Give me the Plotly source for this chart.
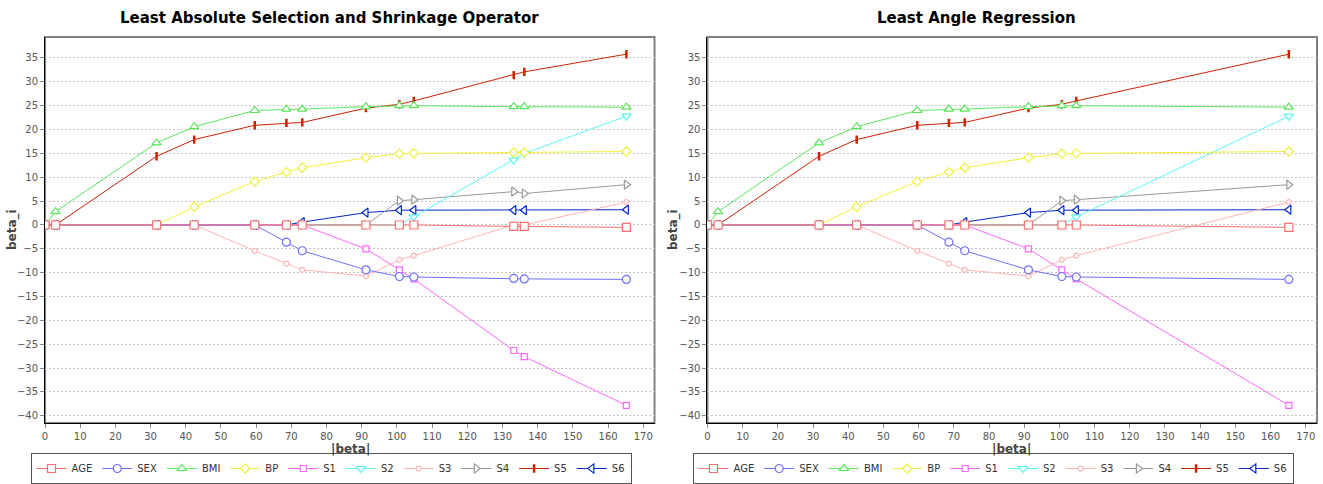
import plotly.graph_objects as go
from plotly.subplots import make_subplots

# Regularization paths on the diabetes data: coefficient of each predictor vs. L1 norm |beta|
variables = ["AGE", "SEX", "BMI", "BP", "S1", "S2", "S3", "S4", "S5", "S6"]

# ---- LASSO path (13 breakpoints) ----
lasso_norm = [0, 3.0, 31.7, 42.4, 59.6, 68.6, 73.1, 91.2, 100.7, 104.8, 133.2, 136.2, 165.2]
lasso_age = [0, 0, 0, 0, 0, 0, 0, 0, 0, 0, -0.3, -0.3, -0.5]
lasso_sex = [0, 0, 0, 0, 0, -3.6, -5.4, -9.4, -10.8, -10.9, -11.2, -11.3, -11.4]
lasso_bmi = [0, 2.8, 17.2, 20.6, 24.0, 24.3, 24.3, 24.8, 25.0, 25.0, 24.8, 24.8, 24.7]
lasso_bp = [0, 0, 0, 3.8, 9.1, 11.1, 12.0, 14.1, 14.95, 15.0, 15.2, 15.2, 15.4]
lasso_s1 = [0, 0, 0, 0, 0, 0, 0, -5.0, -9.4, -11.3, -26.3, -27.6, -37.8]
lasso_s2 = [0, 0, 0, 0, 0, 0, 0, 0, 0, 1.7, 13.6, 15.0, 22.8]
lasso_s3 = [0, 0, 0, 0, -5.4, -8.1, -9.4, -10.7, -7.3, -6.4, 0, 0, 4.8]
lasso_s4 = [0, 0, 0, 0, 0, 0, 0, 0, 5.1, 5.3, 7.0, 6.6, 8.45]
lasso_s5 = [0, 0, 14.4, 17.9, 20.9, 21.4, 21.5, 24.5, 25.3, 26.0, 31.4, 32.1, 35.8]
lasso_s6 = [0, 0, 0, 0, 0, 0, 0.6, 2.6, 3.1, 3.1, 3.1, 3.1, 3.2]

# ---- LAR path (11 breakpoints) ----
lar_norm = [0, 3.0, 31.7, 42.4, 59.6, 68.6, 73.1, 91.2, 100.7, 104.8, 165.2]
lar_age = [0, 0, 0, 0, 0, 0, 0, 0, 0, 0, -0.5]
lar_sex = [0, 0, 0, 0, 0, -3.6, -5.4, -9.4, -10.8, -10.9, -11.4]
lar_bmi = [0, 2.8, 17.2, 20.6, 24.0, 24.3, 24.3, 24.8, 25.0, 25.0, 24.7]
lar_bp = [0, 0, 0, 3.8, 9.1, 11.1, 12.0, 14.1, 14.95, 15.0, 15.4]
lar_s1 = [0, 0, 0, 0, 0, 0, 0, -5.0, -9.4, -11.3, -37.8]
lar_s2 = [0, 0, 0, 0, 0, 0, 0, 0, 0, 1.7, 22.8]
lar_s3 = [0, 0, 0, 0, -5.4, -8.1, -9.4, -10.7, -7.3, -6.4, 4.8]
lar_s4 = [0, 0, 0, 0, 0, 0, 0, 0, 5.1, 5.3, 8.45]
lar_s5 = [0, 0, 14.4, 17.9, 20.9, 21.4, 21.5, 24.5, 25.3, 26.0, 35.8]
lar_s6 = [0, 0, 0, 0, 0, 0, 0.6, 2.6, 3.1, 3.1, 3.2]

x_ticks = list(range(0, 171, 10))
y_ticks = list(range(-40, 36, 5))

titles = ["Least Absolute Selection and Shrinkage Operator", "Least Angle Regression"]

panels = [
    (lasso_norm, [lasso_age, lasso_sex, lasso_bmi, lasso_bp, lasso_s1,
                  lasso_s2, lasso_s3, lasso_s4, lasso_s5, lasso_s6]),
    (lar_norm, [lar_age, lar_sex, lar_bmi, lar_bp, lar_s1,
                lar_s2, lar_s3, lar_s4, lar_s5, lar_s6]),
]

# Per-variable line colour and marker shape
styles = {
    "AGE": dict(color="#ff6f6f", symbol="square", size=8),
    "SEX": dict(color="#6f6fff", symbol="circle", size=8),
    "BMI": dict(color="#5ae65a", symbol="triangle-up", size=8),
    "BP":  dict(color="#f0f03c", symbol="diamond", size=7),
    "S1":  dict(color="#ff66ff", symbol="square", size=6),
    "S2":  dict(color="#5cf5f5", symbol="triangle-down", size=8),
    "S3":  dict(color="#ffb4b4", symbol="circle", size=5),
    "S4":  dict(color="#9a9a9a", symbol="triangle-right", size=8),
    "S5":  dict(color="#cc2200", symbol="line-ns-open", size=6),
    "S6":  dict(color="#0028c8", symbol="triangle-left", size=8),
}

FONT = "DejaVu Sans"

fig = make_subplots(rows=1, cols=2, horizontal_spacing=0.04164)

for col, (norm, series) in enumerate(panels, start=1):
    legend_name = "legend" if col == 1 else "legend2"
    # draw S6 first so AGE ends up on top of the zero line
    for idx in reversed(range(len(variables))):
        name = variables[idx]
        st = styles[name]
        if st["symbol"].endswith("-open"):
            marker = dict(symbol=st["symbol"], size=st["size"], color=st["color"],
                          line=dict(color=st["color"], width=2.5))
        else:
            marker = dict(symbol=st["symbol"], size=st["size"], color="white",
                          line=dict(color=st["color"], width=1.2))
        fig.add_trace(
            go.Scatter(
                x=norm, y=series[idx], name=name, mode="lines+markers",
                line=dict(color=st["color"], width=1),
                marker=marker,
                legend=legend_name, legendrank=idx + 1,
            ),
            row=1, col=col,
        )

axis_common = dict(
    showline=True, linecolor="black", linewidth=1,
    ticks="outside", ticklen=4, tickcolor="#8a8a8a", tickwidth=1,
    tickfont=dict(family=FONT, size=10, color="#555555"),
    zeroline=False,
)

for col in (1, 2):
    fig.update_xaxes(range=[0, 173.2], tickvals=x_ticks, showgrid=False,
                     row=1, col=col, **axis_common)
    fig.update_yaxes(range=[-41.5, 39.4], tickvals=y_ticks, showgrid=True,
                     gridcolor="#c4c4c4", griddash="2px,2px", gridwidth=1,
                     row=1, col=col, **axis_common)

# grey frame around each plot area (left/bottom are overdrawn by the black axis lines)
for xr, yr in (("x domain", "y domain"), ("x2 domain", "y2 domain")):
    fig.add_shape(type="rect", xref=xr, yref=yr, x0=0, x1=1, y0=0, y1=1,
                  line=dict(color="#808080", width=2), layer="below")

W, H = 1323, 484
ML, MR, MT, MB = 45, 6, 37, 61
pw, ph = W - ML - MR, H - MT - MB


def px_x(px):
    return (px - ML) / pw


def px_y(py):
    return (H - MB - py) / ph


annotations = []
for title, cx in zip(titles, (329, 976)):
    annotations.append(dict(text=f"<b>{title}</b>", x=px_x(cx), y=px_y(18),
                            xref="paper", yref="paper", showarrow=False,
                            xanchor="center", yanchor="middle",
                            font=dict(family=FONT, size=15, color="black")))
for bx in (12, 673):
    annotations.append(dict(text="<b>beta_i</b>", x=px_x(bx), y=0.5, textangle=-90,
                            xref="paper", yref="paper", showarrow=False,
                            xanchor="center", yanchor="middle",
                            font=dict(family=FONT, size=12, color="#444444")))
for lx in (350, 1011):
    annotations.append(dict(text="<b>|beta|</b>", x=px_x(lx), y=px_y(449),
                            xref="paper", yref="paper", showarrow=False,
                            xanchor="center", yanchor="middle",
                            font=dict(family=FONT, size=12, color="#444444")))

legend_common = dict(
    orientation="h", xanchor="center", yanchor="bottom", y=px_y(484),
    bgcolor="white", bordercolor="#555555", borderwidth=1,
    font=dict(family=FONT, size=10, color="#333333"),
    itemwidth=30, tracegroupgap=0,
)

fig.update_layout(
    width=W, height=H,
    margin=dict(l=ML, r=MR, t=MT, b=MB, autoexpand=False),
    paper_bgcolor="white", plot_bgcolor="white",
    showlegend=True,
    legend=dict(x=px_x(331), **legend_common),
    legend2=dict(x=px_x(993), **legend_common),
    annotations=annotations,
)

fig.write_html("out.html")
